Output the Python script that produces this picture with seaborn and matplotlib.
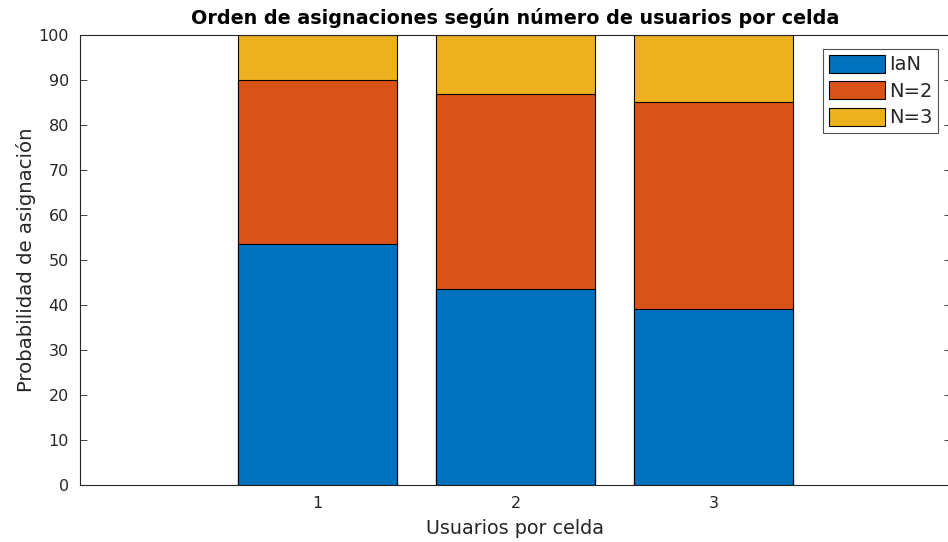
import numpy as np
import pandas as pd
import matplotlib
matplotlib.use("Agg")
import matplotlib.pyplot as plt
import seaborn as sns
from matplotlib.patches import Patch

users = [1, 2, 3]
ian = [53.5, 43.5, 39.2]
n2 = [36.5, 43.5, 45.9]
n3 = [10.0, 13.0, 14.9]
series_names = ["IaN", "N=2", "N=3"]
colors = ["#0072BD", "#D95319", "#EDB120"]

sns.set_style("white")
plt.rcParams['font.family'] = ['DejaVu Sans']

fig = plt.figure(figsize=(9.48, 5.42), dpi=100)
W, H = 948, 542
ax = fig.add_axes([80 / W, (H - 485) / H, (951 - 80) / W, (485 - 35) / H])

cum1 = np.array(ian)
cum2 = cum1 + np.array(n2)
cum3 = cum2 + np.array(n3)
df = pd.DataFrame({"users": users, "c1": cum1, "c2": cum2, "c3": cum3})

for col, c in zip(["c3", "c2", "c1"], colors[::-1]):
    sns.barplot(data=df, x="users", y=col, color=c, native_scale=True,
                width=0.8, edgecolor="black", linewidth=0.8, saturation=1,
                ax=ax, zorder=2)

ax.set_xlim(-0.2, 4.2)
ax.set_ylim(0, 100)
ax.set_xticks([1, 2, 3])
ax.set_yticks(np.arange(0, 101, 10))
ax.tick_params(axis="both", direction="in", length=5, width=0.6,
               labelsize=11.5, colors="#262626", top=True, right=True,
               bottom=True, left=True, pad=8)
for s in ax.spines.values():
    s.set_color("#262626")
    s.set_linewidth(0.8)

ax.set_xlabel("Usuarios por celda", fontsize=13.8, color="#262626", labelpad=6)
ax.set_ylabel("Probabilidad de asignación", fontsize=14.2, color="#262626", labelpad=2)
ax.set_title("Orden de asignaciones según número de usuarios por celda",
             fontsize=13.8, fontweight="bold", color="black", pad=8)

handles = [Patch(facecolor=c, edgecolor="black", linewidth=0.8, label=n)
           for c, n in zip(colors, series_names)]
leg = ax.legend(handles=handles, loc="upper right",
                bbox_to_anchor=((938 - 80) / 871, (485 - 49) / 450),
                fontsize=14, frameon=True, fancybox=False, edgecolor="#262626",
                handlelength=2.9, handleheight=1.05, handletextpad=0.2,
                labelspacing=0.35, borderpad=0.3, borderaxespad=0)
leg.get_frame().set_linewidth(0.8)

fig.savefig("out.png", dpi=100)
